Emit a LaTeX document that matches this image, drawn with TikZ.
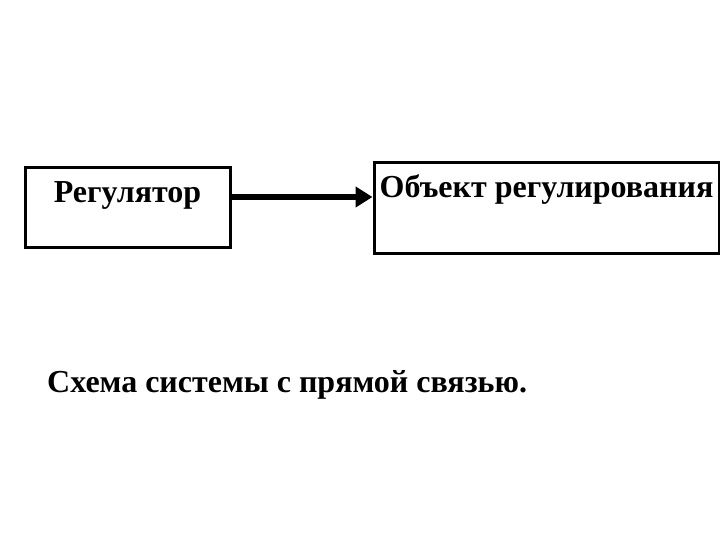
\documentclass[tikz,border=0pt]{standalone}
\usepackage{fontspec}
\setmainfont{Liberation Serif}
\usepackage{tikz}
\usetikzlibrary{arrows.meta, positioning}
\tikzset{
  block/.style={
    rectangle, draw=black, line width=3pt, fill=white,
    inner sep=0pt, text depth=45pt, text height=35pt,
    font=\fontsize{32}{36}\selectfont\bfseries
  },
  caption/.style={
    inner sep=0pt, font=\fontsize{32}{36}\selectfont\bfseries
  },
  arrow/.style={line width=6pt, -{Triangle[length=17pt,width=20pt]}},
}
\begin{document}
\begin{tikzpicture}[x=1pt, y=1pt]
  \useasboundingbox (0,0) rectangle (720,540);
  \node (reg) [block, minimum width=205pt, minimum height=80pt] at (127.5,332) {Регулятор};
  \node (obj) [block, minimum width=345pt, minimum height=91pt,
               text depth=56pt, right=141pt of reg] {Объект регулирования};
  \node (cap) [caption, anchor=base west] at (47,147) {Схема системы с прямой связью.};

  \draw [arrow] ([yshift=11pt]reg.east) -- ([yshift=11pt]reg.east -| obj.west);
\end{tikzpicture}
\end{document}
